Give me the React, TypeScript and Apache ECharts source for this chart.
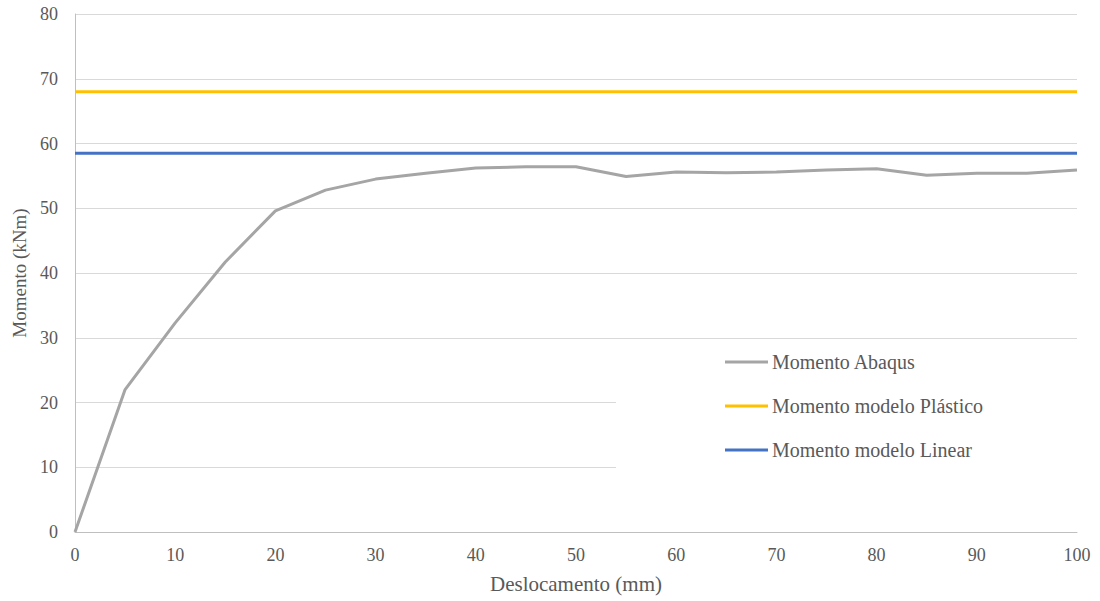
import React, { useEffect, useRef } from "react";
import * as echarts from "echarts";

// Displacement (mm) and simulated moment (kNm)
const deslocamento = [0, 5, 10, 15, 20, 25, 30, 35, 40, 45, 50, 55, 60, 65, 70, 75, 80, 85, 90, 95, 100];
const momentoAbaqus = [0, 22, 32.3, 41.7, 49.6, 52.8, 54.5, 55.4, 56.2, 56.4, 56.4, 54.9, 55.6, 55.5, 55.6, 55.9, 56.1, 55.1, 55.4, 55.4, 55.9];
// Constant model moments (kNm)
const momentoPlastico = 68;
const momentoLinear = 58.5;
const xRange = [0, 100];

const seriesNames = ["Momento Abaqus", "Momento modelo Plástico", "Momento modelo Linear"];

const FONT = "'Liberation Serif', 'Times New Roman', serif";
const TEXT = "#595959";

export default function App() {
  const ref = useRef<HTMLDivElement>(null);

  useEffect(() => {
    if (!ref.current) return;
    const chart = echarts.init(ref.current, undefined, { renderer: "svg" });
    chart.setOption({
      animation: false,
      backgroundColor: "#ffffff",
      grid: { left: 75, right: 23, top: 14, bottom: 69, containLabel: false, outerBoundsMode: "none" },
      xAxis: {
        type: "value",
        min: 0,
        max: 100,
        interval: 10,
        name: "Deslocamento (mm)",
        nameLocation: "middle",
        nameGap: 41,
        nameTextStyle: { fontFamily: FONT, fontSize: 21, color: TEXT },
        axisLine: { show: true, lineStyle: { color: "#bfbfbf", width: 1 } },
        axisTick: { show: false },
        axisLabel: { fontFamily: FONT, fontSize: 18, color: TEXT, margin: 14 },
        splitLine: { show: false },
      },
      yAxis: {
        type: "value",
        min: 0,
        max: 80,
        interval: 10,
        name: "Momento (kNm)",
        nameLocation: "middle",
        nameGap: 46,
        nameTextStyle: { fontFamily: FONT, fontSize: 19, color: TEXT, padding: [0, 0, 0, 0] },
        axisLine: { show: true, lineStyle: { color: "#bfbfbf", width: 1 } },
        axisTick: { show: false },
        axisLabel: { fontFamily: FONT, fontSize: 18, color: TEXT, margin: 17 },
        splitLine: { show: true, lineStyle: { color: "#d9d9d9", width: 1 } },
      },
      graphic: [
        {
          type: "rect",
          z: 1,
          shape: { x: 616, y: 344, width: 461, height: 136 },
          style: { fill: "#ffffff" },
        },
      ],
      legend: {
        orient: "vertical",
        left: 725,
        top: 352,
        padding: 0,
        icon: "rect",
        itemWidth: 43,
        itemHeight: 3,
        itemGap: 24,
        textStyle: { fontFamily: FONT, fontSize: 20, color: TEXT, lineHeight: 20, padding: [0, 0, 0, -1] },
        data: seriesNames,
        z: 5,
      },
      series: [
        {
          name: seriesNames[0],
          type: "line",
          symbol: "none",
          z: 3,
          lineStyle: { color: "#a5a5a5", width: 3 },
          itemStyle: { color: "#a5a5a5" },
          data: deslocamento.map((x, i) => [x, momentoAbaqus[i]]),
        },
        {
          name: seriesNames[1],
          type: "line",
          symbol: "none",
          z: 3,
          lineStyle: { color: "#ffc000", width: 3 },
          itemStyle: { color: "#ffc000" },
          data: xRange.map((x) => [x, momentoPlastico]),
        },
        {
          name: seriesNames[2],
          type: "line",
          symbol: "none",
          z: 3,
          lineStyle: { color: "#4472c4", width: 3 },
          itemStyle: { color: "#4472c4" },
          data: xRange.map((x) => [x, momentoLinear]),
        },
      ],
    });
    return () => chart.dispose();
  }, []);

  return <div ref={ref} style={{ width: 1100, height: 601, position: "absolute", left: 0, top: 0 }} />;
}
